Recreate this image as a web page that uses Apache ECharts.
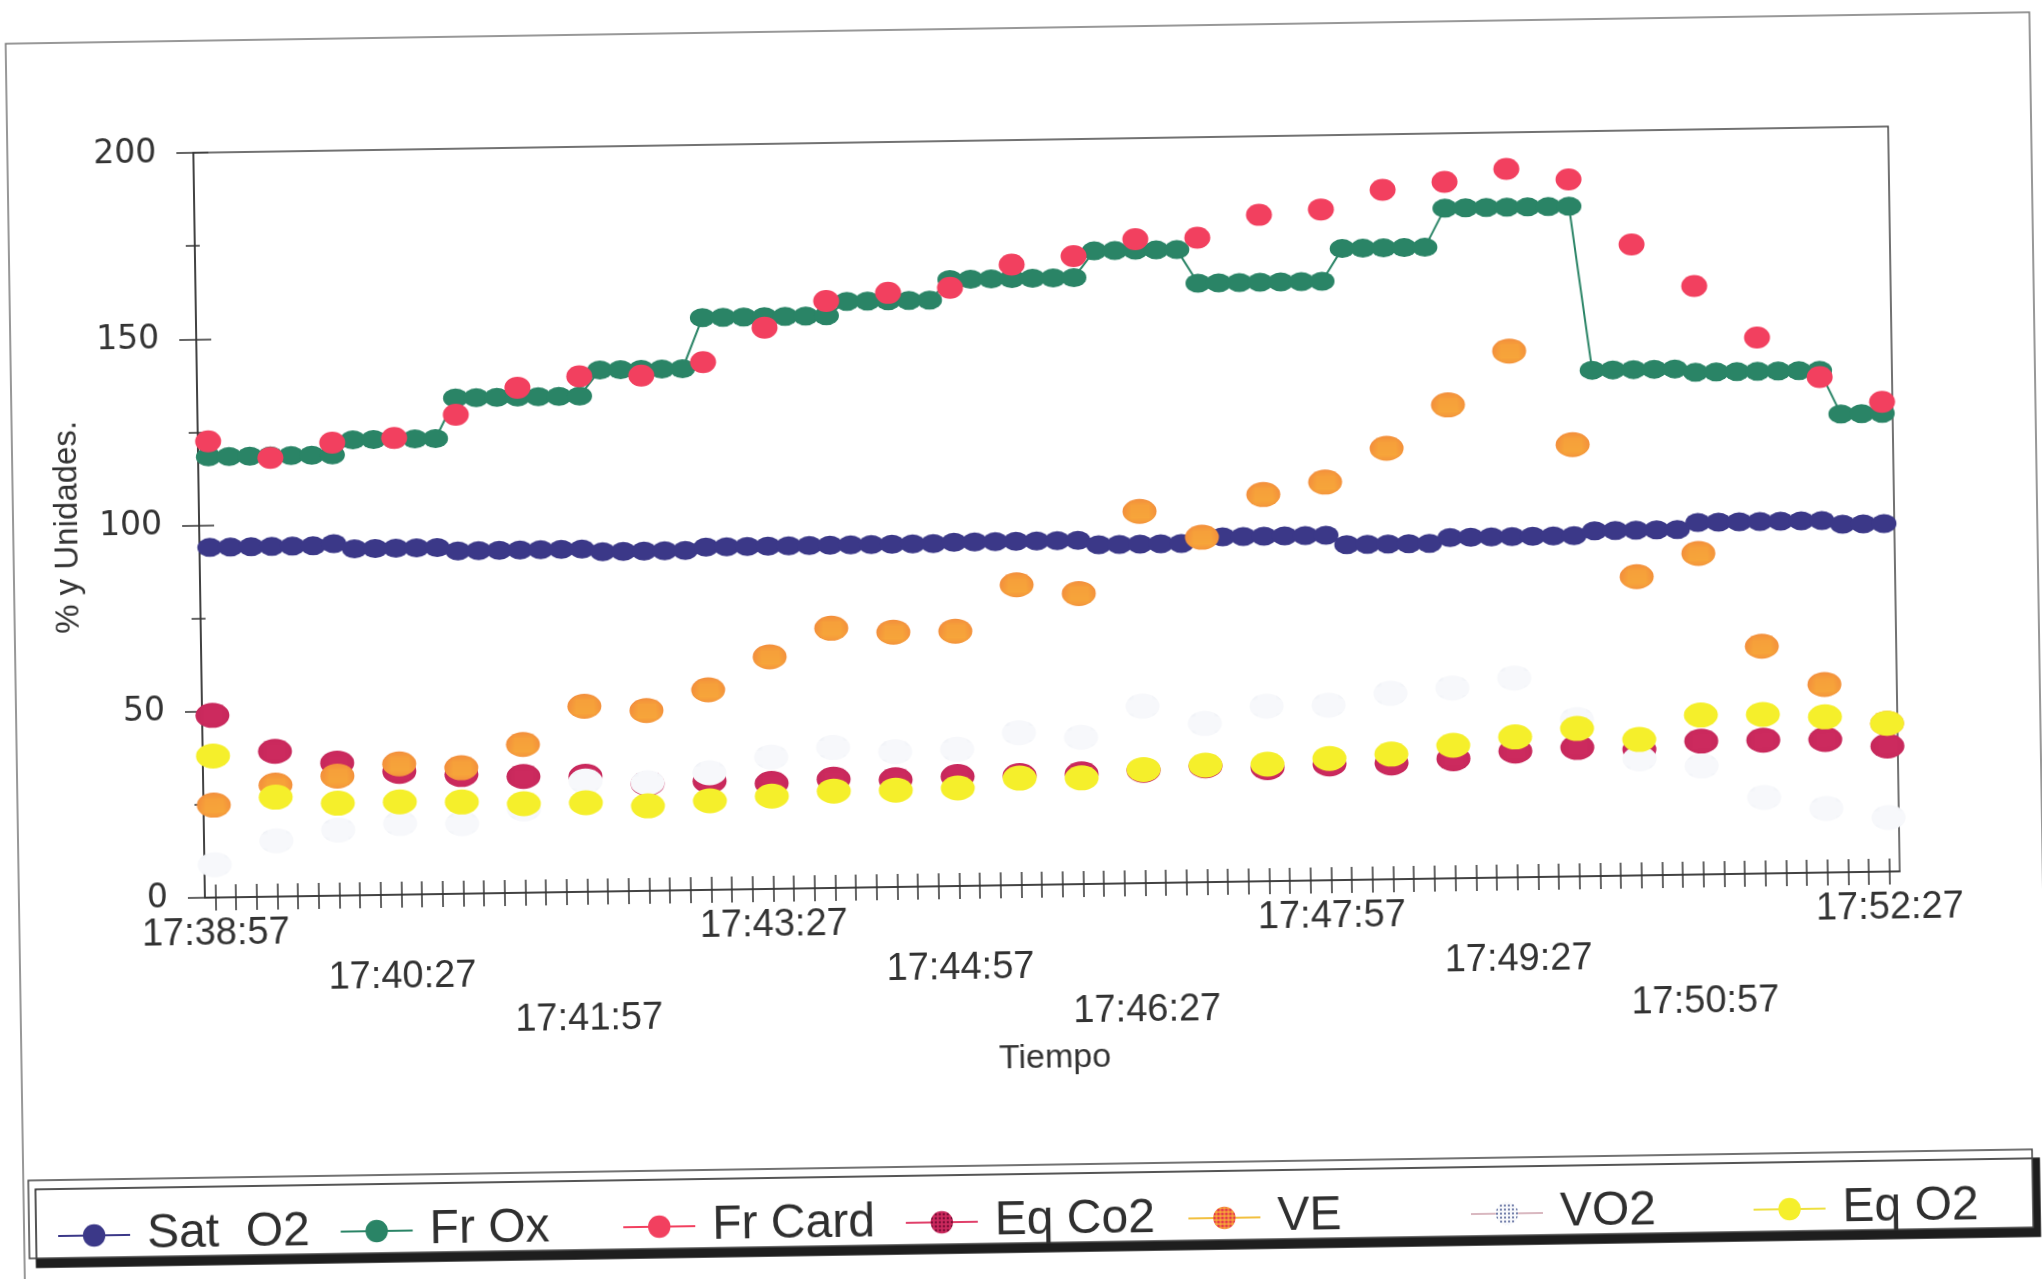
<!DOCTYPE html>
<html>
<head>
<meta charset="utf-8">
<title>% y Unidades - Tiempo</title>
<script src="https://cdn.jsdelivr.net/npm/echarts@6/dist/echarts.min.js"></script>
<style>
    html, body { margin: 0; padding: 0; background: #fff; overflow: hidden; }
    /* the scanned sheet is slightly tilted */
    #chart { width: 2042px; height: 1279px; transform: rotate(-0.89deg); transform-origin: 50% 50%; background: #fff; }
</style>
</head>
<body>
<div id="chart"></div>
<script>
// categorias: una muestra cada 10 s
var tiempos = [
    '17:38:57','17:39:07','17:39:17','17:39:27','17:39:37','17:39:47','17:39:57','17:40:07','17:40:17',
    '17:40:27','17:40:37','17:40:47','17:40:57','17:41:07','17:41:17','17:41:27','17:41:37','17:41:47',
    '17:41:57','17:42:07','17:42:17','17:42:27','17:42:37','17:42:47','17:42:57','17:43:07','17:43:17',
    '17:43:27','17:43:37','17:43:47','17:43:57','17:44:07','17:44:17','17:44:27','17:44:37','17:44:47',
    '17:44:57','17:45:07','17:45:17','17:45:27','17:45:37','17:45:47','17:45:57','17:46:07','17:46:17',
    '17:46:27','17:46:37','17:46:47','17:46:57','17:47:07','17:47:17','17:47:27','17:47:37','17:47:47',
    '17:47:57','17:48:07','17:48:17','17:48:27','17:48:37','17:48:47','17:48:57','17:49:07','17:49:17',
    '17:49:27','17:49:37','17:49:47','17:49:57','17:50:07','17:50:17','17:50:27','17:50:37','17:50:47',
    '17:50:57','17:51:07','17:51:17','17:51:27','17:51:37','17:51:47','17:51:57','17:52:07','17:52:17',
    '17:52:27'
];
// etiquetas visibles del eje X (en tres filas escalonadas)
var etiquetasX = ['17:38:57','17:40:27','17:41:57','17:43:27','17:44:57','17:46:27','17:47:57','17:49:27','17:50:57','17:52:27'];
var ticksY = [0, 50, 100, 150, 200];

// series continuas (82 valores)
var satO2 = [
    94, 94, 94, 94, 94, 94, 94.5, 93, 93, 93, 93, 93,
    92, 92, 92, 92, 92, 92, 92, 91.2, 91.2, 91.2, 91.2, 91.2,
    92, 92, 92, 92, 92, 92, 92, 92, 92, 92, 92, 92,
    92.3, 92.3, 92.3, 92.3, 92.3, 92.3, 92.3, 91, 91, 91, 91, 91,
    92.6, 92.6, 92.6, 92.6, 92.6, 92.6, 92.6, 90, 90, 90, 90, 90,
    91.5, 91.5, 91.5, 91.5, 91.5, 91.5, 91.5, 92.7, 92.7, 92.7, 92.7, 92.7,
    94.5, 94.5, 94.5, 94.5, 94.5, 94.5, 94.5, 93.4, 93.4, 93.4
];
var frOx = [
    118.3, 118.3, 118.3, 118.3, 118.3, 118.3, 118.3, 122.3, 122.3, 122.3, 122.3, 122.3,
    133.1, 133.1, 133.1, 133.1, 133.1, 133.1, 133.1, 140, 140, 140, 140, 140,
    153.6, 153.6, 153.6, 153.6, 153.6, 153.6, 153.6, 157.4, 157.4, 157.4, 157.4, 157.4,
    162.8, 162.8, 162.8, 162.8, 162.8, 162.8, 162.8, 169.9, 169.9, 169.9, 169.9, 169.9,
    160.8, 160.8, 160.8, 160.8, 160.8, 160.8, 160.8, 169.5, 169.5, 169.5, 169.5, 169.5,
    179.9, 179.9, 179.9, 179.9, 179.9, 179.9, 179.9, 135.8, 135.8, 135.8, 135.8, 135.8,
    134.8, 134.8, 134.8, 134.8, 134.8, 134.8, 134.8, 123, 123, 123
];

// series medidas cada 30 s (una de cada 3 categorias, 28 valores)
var pasoMuestra = 3;
var frCard = [122.5, 117.8, 121.6, 122.6, 128.6, 135.6, 138.4, 138.3, 141.7, 150.7, 157.6, 159.5, 160.6, 166.6,
              168.6, 172.9, 173, 178.9, 180.1, 185.1, 187, 190.2, 187.1, 169.4, 158, 143.9, 133, 126.1];
var eqCo2 = [48.9, 39, 35.6, 33.1, 32, 31.2, 31, 28.8, 29.2, 28.3, 29.2, 28.8, 29.4, 29.4,
             29.6, 30.3, 31.2, 30.5, 31.2, 31.2, 32.1, 33.9, 34.6, 33.8, 35.8, 35.8, 35.7, 33.7];
var ve = [24.8, 29.9, 32.1, 35.1, 33.8, 39.8, 49.8, 48.4, 53.7, 62.3, 69.7, 68.4, 68.4, 80.6,
          78, 99.8, 92.6, 103.8, 106.9, 115.7, 127.1, 141.3, 115.9, 80.2, 86.2, 61, 50.5, 39.8];
var vo2 = [8.8, 15, 17.6, 19.1, 18.8, 22.5, 29.7, 29, 31.4, 35.4, 37.7, 36.3, 36.7, 40.9,
           39.4, 47.5, 42.6, 47, 47, 49.9, 51.1, 53.5, 42.1, 31.3, 29.1, 20.4, 17.2, 14.5];
var eqO2 = [38, 26.7, 24.8, 24.9, 24.6, 23.9, 23.9, 22.8, 23.9, 24.9, 26, 26, 26.3, 28.7,
            28.5, 30.5, 31.4, 31.4, 32.7, 33.6, 35.7, 37.7, 39.7, 36.5, 42.8, 42.7, 41.8, 39.8];

var nombres = ['Sat  O2', 'Fr Ox', 'Fr Card', 'Eq Co2', 'VE', 'VO2', 'Eq O2'];

// pone cada muestra en su categoria, huecos en el resto
function expandir(valores) {
    var out = [];
    for (var i = 0; i < tiempos.length; i++) {
        out.push(i % pasoMuestra === 0 ? valores[i / pasoMuestra] : '-');
    }
    return out;
}

// trama de puntos tipo impresion
function trama(fondo, punto, paso, r) {
    var c = document.createElement('canvas');
    c.width = paso;
    c.height = paso;
    var g = c.getContext('2d');
    g.fillStyle = fondo;
    g.fillRect(0, 0, paso, paso);
    g.fillStyle = punto;
    g.beginPath();
    g.arc(paso / 2, paso / 2, r, 0, Math.PI * 2);
    g.fill();
    return {image: c, repeat: 'repeat'};
}

function serie(nombre, datos, color, colorLinea, tam) {
    return {
        name: nombre,
        type: 'line',
        data: datos,
        symbol: 'circle',
        symbolSize: tam,
        showSymbol: true,
        showAllSymbol: true,
        connectNulls: false,
        itemStyle: {color: color, borderWidth: 0},
        lineStyle: {color: colorLinea, width: 2},
        emphasis: {disabled: true},
        animation: false
    };
}

var ejeColor = '#333';
var fuente = 'Liberation Sans';

var series = [
    serie(nombres[0], satO2, '#3b3888', '#3b3888', [25, 19]),
    serie(nombres[1], frOx, '#2a8466', '#2a8466', [25, 19]),
    serie(nombres[2], expandir(frCard), '#f2405f', '#f2405f', [26, 22]),
    serie(nombres[3], expandir(eqCo2), trama('#cc2a5e', '#780d35', 4, 1.2), '#e0406a', [34, 25]),
    serie(nombres[4], expandir(ve), trama('#f7a53a', '#e5384a', 4, 1.5), '#f2c040', [34, 25]),
    serie(nombres[5], expandir(vo2), trama('#f7f8fb', '#4a5a90', 4, 1.0), '#d9b8c0', [34, 25]),
    serie(nombres[6], expandir(eqO2), '#f5ef2b', '#eee040', [34, 25])
];

// una leyenda por elemento, a paso fijo
var leyendas = [];
for (var k = 0; k < nombres.length; k++) {
    leyendas.push({
        data: [nombres[k]],
        left: 43 + k * 282.6,
        top: 1192,
        orient: 'horizontal',
        itemWidth: 72,
        itemHeight: 28,
        itemGap: 0,
        selectedMode: false,
        formatter: '{n|{name}}',
        textStyle: {
            color: '#2f2f2f',
            fontSize: 48,
            fontFamily: fuente,
            rich: {n: {fontSize: 48, fontFamily: fuente, color: '#2f2f2f', padding: [0, 0, 0, 12]}}
        }
    });
}

var chart = echarts.init(document.getElementById('chart'), null, {renderer: 'canvas'});
chart.setOption({
    backgroundColor: '#fff',
    animation: false,
    grid: {
        left: 201, top: 140, width: 1695, height: 745,
        show: true, borderColor: '#444', borderWidth: 1.5, backgroundColor: 'rgba(0,0,0,0)',
        containLabel: false, outerBoundsMode: 'none'
    },
    graphic: [
        {
            type: 'rect', z: 0, silent: true,
            shape: {x: 15, y: 28, width: 2024, height: 1300},
            style: {fill: 'none', stroke: '#777', lineWidth: 1.5}
        },
        {
            type: 'rect', z: 0, silent: true,
            shape: {x: 20, y: 1165, width: 2004, height: 78},
            style: {fill: '#fff', stroke: '#444', lineWidth: 1.5,
                    shadowColor: '#1e1e1e', shadowOffsetX: 7, shadowOffsetY: 9, shadowBlur: 0}
        }
    ],
    legend: leyendas,
    xAxis: [
        {
            type: 'category',
            data: tiempos,
            boundaryGap: true,
            position: 'bottom',
            axisLine: {show: true, lineStyle: {color: ejeColor, width: 1.5}},
            axisTick: {show: true, alignWithLabel: true, interval: 0, length: 13, lineStyle: {color: ejeColor, width: 1.5}},
            axisLabel: {
                interval: 8,
                margin: 14,
                fontSize: 38,
                lineHeight: 45.5,
                color: ejeColor,
                fontFamily: fuente,
                formatter: function (valor) {
                    var fila = etiquetasX.indexOf(valor) % 3;
                    var pre = '';
                    for (var j = 0; j < fila; j++) pre += '\n';
                    return pre + valor;
                }
            },
            splitLine: {show: false},
            name: 'Tiempo',
            nameLocation: 'middle',
            nameGap: 157,
            nameTextStyle: {fontSize: 34, color: ejeColor, fontFamily: fuente}
        },
        {
            type: 'category',
            data: tiempos,
            boundaryGap: true,
            position: 'bottom',
            axisLine: {show: false},
            axisTick: {show: true, inside: true, alignWithLabel: true, interval: 0, length: 13, lineStyle: {color: ejeColor, width: 1.5}},
            axisLabel: {show: false},
            splitLine: {show: false}
        }
    ],
    yAxis: [
        {
            type: 'value',
            min: ticksY[0],
            max: ticksY[ticksY.length - 1],
            interval: ticksY[1] - ticksY[0],
            position: 'left',
            axisLine: {show: true, lineStyle: {color: ejeColor, width: 1.5}},
            axisTick: {show: true, length: 17, lineStyle: {color: ejeColor, width: 1.5}},
            minorTick: {show: true, splitNumber: 2, length: 9, lineStyle: {color: ejeColor, width: 1.5}},
            axisLabel: {margin: 37, fontSize: 33, color: ejeColor, fontFamily: 'DejaVu Sans'},
            splitLine: {show: false},
            minorSplitLine: {show: false},
            name: '% y Unidades.',
            nameLocation: 'middle',
            nameRotate: 90,
            nameGap: 115,
            nameTextStyle: {fontSize: 33, color: ejeColor, fontFamily: fuente}
        },
        {
            type: 'value',
            min: ticksY[0],
            max: ticksY[ticksY.length - 1],
            interval: ticksY[1] - ticksY[0],
            position: 'left',
            axisLine: {show: false},
            axisTick: {show: true, inside: true, length: 15, lineStyle: {color: ejeColor, width: 1.5}},
            minorTick: {show: true, splitNumber: 2, length: 5, lineStyle: {color: ejeColor, width: 1.5}},
            axisLabel: {show: false},
            splitLine: {show: false},
            minorSplitLine: {show: false}
        }
    ],
    series: series
});
</script>
</body>
</html>
